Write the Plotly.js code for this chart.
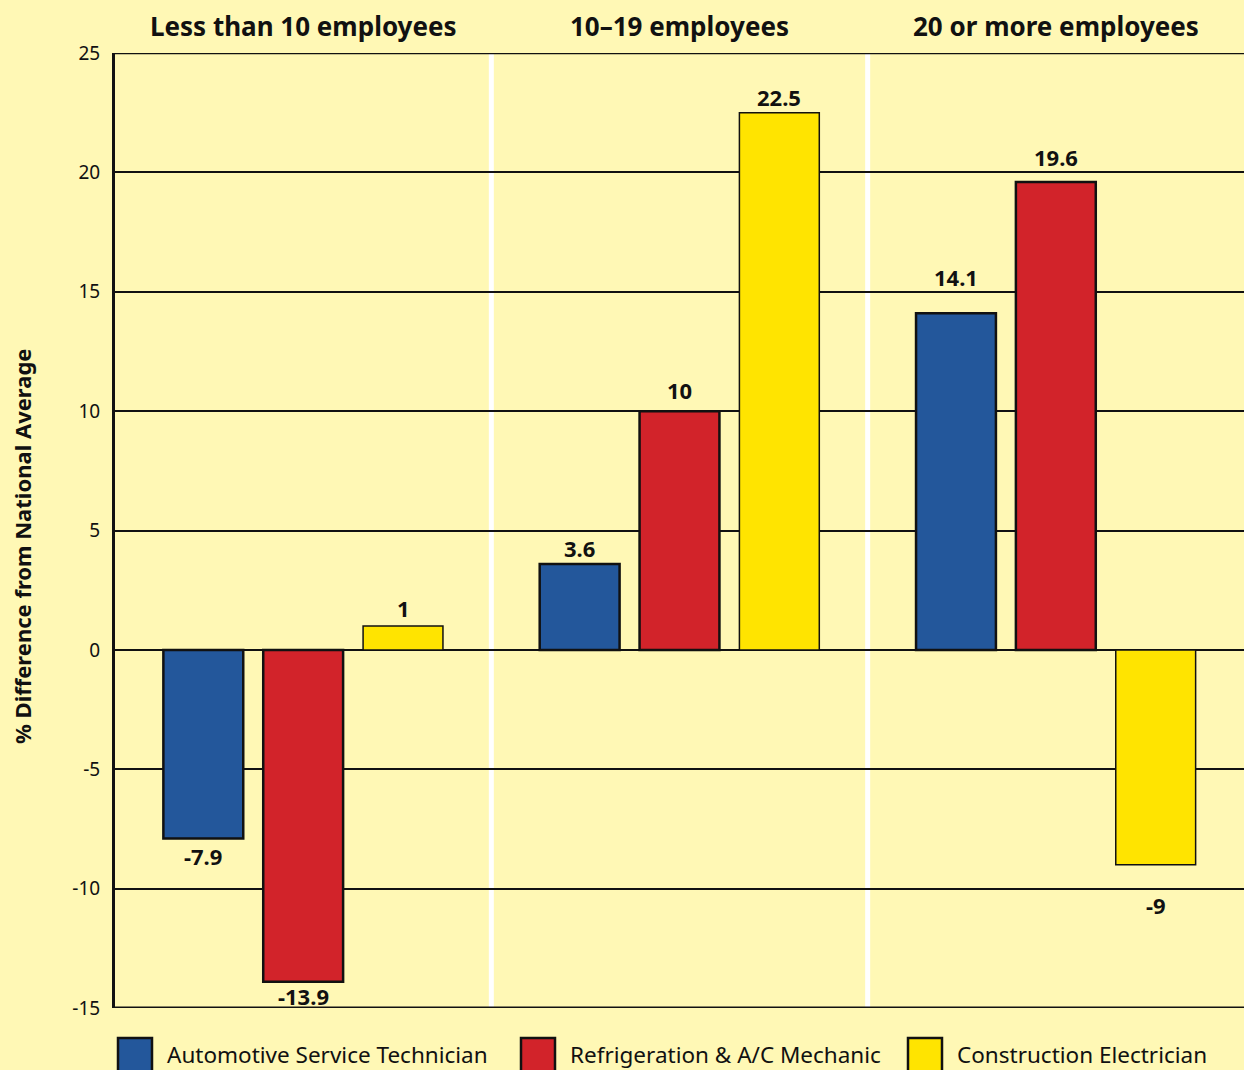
<!DOCTYPE html>
<html>
<head>
<meta charset="utf-8">
<script src="https://cdn.plot.ly/plotly-3.0.1.min.js"></script>
<style>html,body{margin:0;padding:0;background:#FFF8B5;}#chart{width:1244px;height:1070px;}</style>
</head>
<body>
<div id="chart"></div>
<script>
const categories = ["Less than 10 employees", "10\u201319 employees", "20 or more employees"];
const seriesNames = ["Automotive Service Technician", "Refrigeration & A/C Mechanic", "Construction Electrician"];
const automotive = [-7.9, 3.6, 14.1];
const refrigeration = [-13.9, 10, 19.6];
const electrician = [1, 22.5, -9];
const yTicks = [-15, -10, -5, 0, 5, 10, 15, 20, 25];
const yTitle = "% Difference from National Average";

// styling
const colors = ["#23579B", "#D2232A", "#FFE400"];
const lineWidths = [2.5, 2.5, 1.5];
const labelShifts = [[-18, 16, 36], [-14, 21, 25], [18, 16, -40]]; // px offsets of value labels from bar ends
const seriesValues = [automotive, refrigeration, electrician];

const traces = seriesValues.map((vals, i) => ({
  type: "bar",
  name: seriesNames[i],
  x: categories,
  y: vals,
  marker: {color: colors[i], line: {color: "#111", width: lineWidths[i]}},
  hoverinfo: "none"
}));

// grouped-bar geometry for label placement
const bargap = 0.204, bargroupgap = 0.2;
const slot = (1 - bargap) / seriesValues.length;

const annotations = [];
seriesValues.forEach((vals, i) => {
  vals.forEach((v, c) => {
    const xc = c - (1 - bargap) / 2 + slot * (i + 0.5);
    annotations.push({
      xref: "x", yref: "y", x: xc, y: v,
      yshift: labelShifts[i][c],
      xanchor: "center", yanchor: "middle", showarrow: false,
      text: String(v),
      font: {family: "Noto Sans", size: 22, color: "#111", weight: "bold"}
    });
  });
});

// category titles above the plot
categories.forEach((c, i) => {
  annotations.push({
    xref: "x", yref: "paper", x: i, y: 1, yshift: 27,
    xanchor: "center", yanchor: "middle", showarrow: false,
    text: c, font: {family: "Noto Sans", size: 26, color: "#111", weight: "bold"}
  });
});

const plotW = 1129, plotH = 955;
// y-axis title
annotations.push({
  xref: "paper", yref: "paper", x: -93 / plotW, y: (1008 - 547) / plotH,
  xanchor: "center", yanchor: "middle", showarrow: false, textangle: -90,
  text: yTitle, font: {family: "Noto Sans", size: 22, color: "#111", weight: "bold"}
});

const shapes = [0.5, 1.5].map(x => ({
  type: "line", xref: "x", yref: "paper", x0: x, x1: x, y0: 0, y1: 1,
  line: {color: "#FFFFFF", width: 5}, layer: "below"
}));
// frame lines at top and bottom of range
shapes.push({type: "line", xref: "paper", yref: "y", x0: 0, x1: 1, y0: 25, y1: 25, line: {color: "#111", width: 2.5}});
shapes.push({type: "line", xref: "paper", yref: "y", x0: 0, x1: 1, y0: -15, y1: -15, line: {color: "#111", width: 3}});

// custom legend (positions in paper units)
const legendBoxX = [3, 406, 793];
seriesNames.forEach((n, i) => {
  shapes.push({
    type: "rect", xref: "paper", yref: "paper",
    x0: legendBoxX[i] / plotW, x1: (legendBoxX[i] + 34) / plotW,
    y0: -30 / plotH, y1: -66 / plotH,
    fillcolor: colors[i], line: {color: "#111", width: 2.5}
  });
  annotations.push({
    xref: "paper", yref: "paper",
    x: (legendBoxX[i] + 47) / plotW, y: -46 / plotH,
    xanchor: "left", yanchor: "middle", showarrow: false,
    text: n, font: {family: "Noto Sans", size: 22.5, color: "#111"}
  });
});

const layout = {
  width: 1244, height: 1070,
  margin: {l: 115, r: 0, t: 53, b: 62},
  paper_bgcolor: "#FFF8B5",
  plot_bgcolor: "#FFF8B5",
  showlegend: false,
  barmode: "group",
  bargap: bargap,
  bargroupgap: bargroupgap,
  font: {family: "Noto Sans", color: "#111"},
  xaxis: {
    type: "category", range: [-0.5, 2.5],
    showgrid: false, showline: false, ticks: "", zeroline: false,
    showticklabels: false, automargin: false, fixedrange: true
  },
  yaxis: {
    range: [-15, 25], tickvals: yTicks, ticktext: yTicks.map(String),
    showgrid: true, gridcolor: "#111", gridwidth: 2,
    zeroline: true, zerolinecolor: "#111", zerolinewidth: 2,
    showline: true, linecolor: "#111", linewidth: 3,
    ticks: "", ticklabelstandoff: 8,
    tickfont: {family: "Noto Sans", size: 19, color: "#111"},
    automargin: false, fixedrange: true
  },
  shapes: shapes,
  annotations: annotations
};

Plotly.newPlot("chart", traces, layout, {displayModeBar: false, staticPlot: true});
</script>
</body>
</html>
